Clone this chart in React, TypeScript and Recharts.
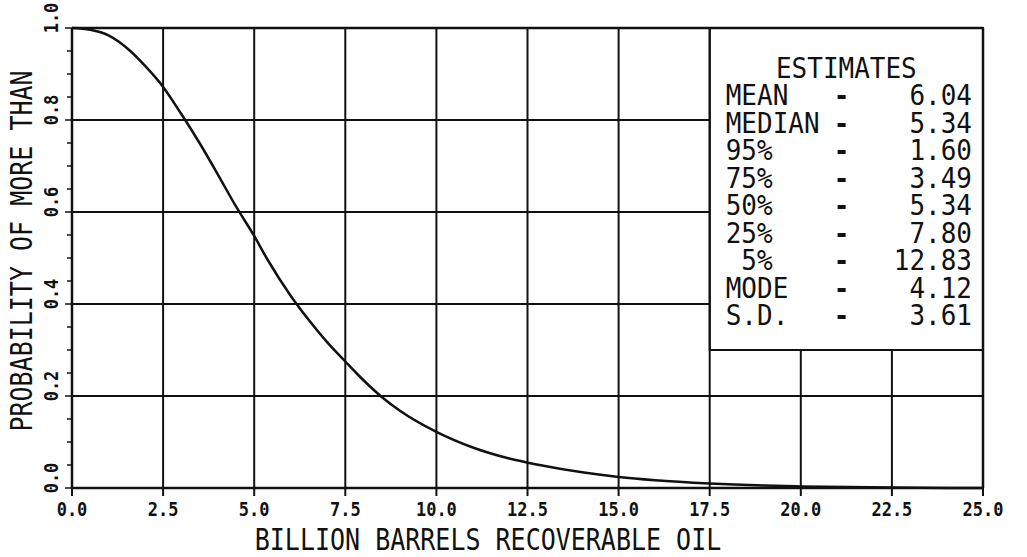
import { LineChart, Line, XAxis, YAxis, ReferenceLine, ReferenceArea } from "recharts";

const barrels = [0, 0.5, 1, 1.6, 2, 2.5, 3, 3.5, 4, 4.5, 5, 5.34, 6, 6.5, 7, 7.5, 7.8, 8.5, 9, 10, 11, 12, 12.83, 14, 15, 16, 17.5, 19, 20, 22.5, 25];
const probability = [1, 0.996, 0.984, 0.95, 0.918, 0.872, 0.813, 0.75, 0.682, 0.612, 0.548, 0.5, 0.418, 0.365, 0.317, 0.275, 0.25, 0.198, 0.168, 0.122, 0.088, 0.064, 0.05, 0.034, 0.024, 0.017, 0.01, 0.0055, 0.0035, 0.001, 0];

const xTicks = [0, 2.5, 5, 7.5, 10, 12.5, 15, 17.5, 20, 22.5, 25];
const yMajor = [0, 0.2, 0.4, 0.6, 0.8, 1];
const yMinor = [0.05, 0.1, 0.15, 0.25, 0.3, 0.35, 0.45, 0.5, 0.55, 0.65, 0.7, 0.75, 0.85, 0.9, 0.95];

const estimateLabels = ["MEAN", "MEDIAN", "95%", "75%", "50%", "25%", " 5%", "MODE", "S.D."];
const estimateValues = ["6.04", "5.34", "1.60", "3.49", "5.34", "7.80", "12.83", "4.12", "3.61"];

const data = barrels.map((x, i) => ({ x, p: probability[i] }));
const yTicks = [...yMajor, ...yMinor].sort((a, b) => a - b);

const INK = "#111";
const MONO = "'DejaVu Sans Mono', monospace";

const isMajor = (v: number) => yMajor.some((m) => Math.abs(m - v) < 1e-6);

const XTick = ({ x, y, payload }: any) => (
  <g>
    <line x1={x} x2={x} y1={y} y2={y + 8} stroke={INK} strokeWidth={2} />
    <text
      transform={`translate(${x},${y + 21}) scale(1,1.15)`}
      textAnchor="middle"
      dominantBaseline="central"
      fontFamily={MONO}
      fontWeight="bold"
      fontSize={17}
      fill={INK}
    >
      {payload.value.toFixed(1)}
    </text>
  </g>
);

const YTick = ({ x, y, payload }: any) => {
  const major = isMajor(payload.value);
  return (
    <g>
      <line x1={x - (major ? 7 : 5)} x2={x} y1={y} y2={y} stroke={INK} strokeWidth={1.5} />
      {major && (
        <text
          transform={`translate(${x - 21},${y - 10}) rotate(-90) scale(1,1.15)`}
          textAnchor="middle"
          dominantBaseline="central"
          fontFamily={MONO}
          fontWeight="bold"
          fontSize={17}
          fill={INK}
        >
          {payload.value.toFixed(1)}
        </text>
      )}
    </g>
  );
};

const XTitle = ({ viewBox }: any) => (
  <text
    transform={`translate(${viewBox.x + 416},${viewBox.y + 52}) scale(1,1.2)`}
    textAnchor="middle"
    dominantBaseline="central"
    fontFamily={MONO}
    fontSize={25}
    fill={INK}
  >
    BILLION BARRELS RECOVERABLE OIL
  </text>
);

const YTitle = ({ viewBox }: any) => (
  <text
    transform={`translate(${viewBox.x + 14},251) rotate(-90) scale(1,1.2)`}
    textAnchor="middle"
    dominantBaseline="central"
    fontFamily={MONO}
    fontSize={25}
    fill={INK}
  >
    PROBABILITY OF MORE THAN
  </text>
);

const EstimatesBox = ({ viewBox }: any) => {
  const { x, y, width } = viewBox;
  const txt = (tx: number, ty: number, s: string, anchor: string, bold = false) => (
    <text
      key={`${s}-${tx}-${ty}`}
      transform={`translate(${tx},${ty}) scale(1,1.12)`}
      textAnchor={anchor}
      dominantBaseline="central"
      fontFamily={MONO}
      fontWeight={bold ? "bold" : "normal"}
      fontSize={26}
      fill={INK}
      style={{ whiteSpace: "pre" }}
    >
      {s}
    </text>
  );
  return (
    <g>
      {txt(x + width / 2, y + 40, "ESTIMATES", "middle")}
      {estimateLabels.map((l, i) => txt(x + 16, y + 67 + i * 27.5, l, "start"))}
      {estimateLabels.map((_, i) => txt(x + 132, y + 67 + i * 27.5, "-", "middle", true))}
      {estimateValues.map((v, i) => txt(x + width - 11, y + 67 + i * 27.5, v, "end"))}
    </g>
  );
};

export default function App() {
  return (
    <div style={{ position: "absolute", left: 0, top: 0 }}>
      <LineChart width={1027} height={557} data={data} margin={{ top: 28, right: 44, left: 8, bottom: 8 }}>
        {/* grid, left out where the estimates box sits */}
        {[2.5, 5, 7.5, 10, 12.5, 15, 17.5].map((v) => (
          <ReferenceLine key={`vx${v}`} x={v} stroke={INK} strokeWidth={2} />
        ))}
        {[20, 22.5].map((v) => (
          <ReferenceLine key={`vs${v}`} segment={[{ x: v, y: 0 }, { x: v, y: 0.3 }]} stroke={INK} strokeWidth={2} />
        ))}
        <ReferenceLine y={0.2} stroke={INK} strokeWidth={2} />
        {[0.4, 0.6, 0.8].map((v) => (
          <ReferenceLine key={`hy${v}`} segment={[{ x: 0, y: v }, { x: 17.5, y: v }]} stroke={INK} strokeWidth={2} />
        ))}
        <ReferenceLine y={1} stroke={INK} strokeWidth={2.5} />
        <ReferenceLine x={25} stroke={INK} strokeWidth={2.5} />
        <ReferenceArea
          x1={17.5}
          x2={25}
          y1={0.3}
          y2={1}
          fill="#fff"
          fillOpacity={1}
          stroke={INK}
          strokeWidth={2}
          label={(p: any) => <EstimatesBox viewBox={p.viewBox} />}
        />
        <XAxis
          dataKey="x"
          type="number"
          domain={[0, 25]}
          ticks={xTicks}
          interval={0}
          height={61}
          tickSize={0}
          tickMargin={0}
          tickLine={false}
          axisLine={{ stroke: INK, strokeWidth: 2.5 }}
          tick={<XTick />}
          label={(p: any) => <XTitle viewBox={p.viewBox} />}
        />
        <YAxis
          type="number"
          domain={[0, 1]}
          ticks={yTicks}
          interval={0}
          width={64}
          tickSize={0}
          tickMargin={0}
          tickLine={false}
          axisLine={{ stroke: INK, strokeWidth: 2.5 }}
          tick={<YTick />}
          label={(p: any) => <YTitle viewBox={p.viewBox} />}
        />
        <Line
          type="monotone"
          dataKey="p"
          stroke={INK}
          strokeWidth={2.5}
          dot={false}
          isAnimationActive={false}
        />
      </LineChart>
    </div>
  );
}
